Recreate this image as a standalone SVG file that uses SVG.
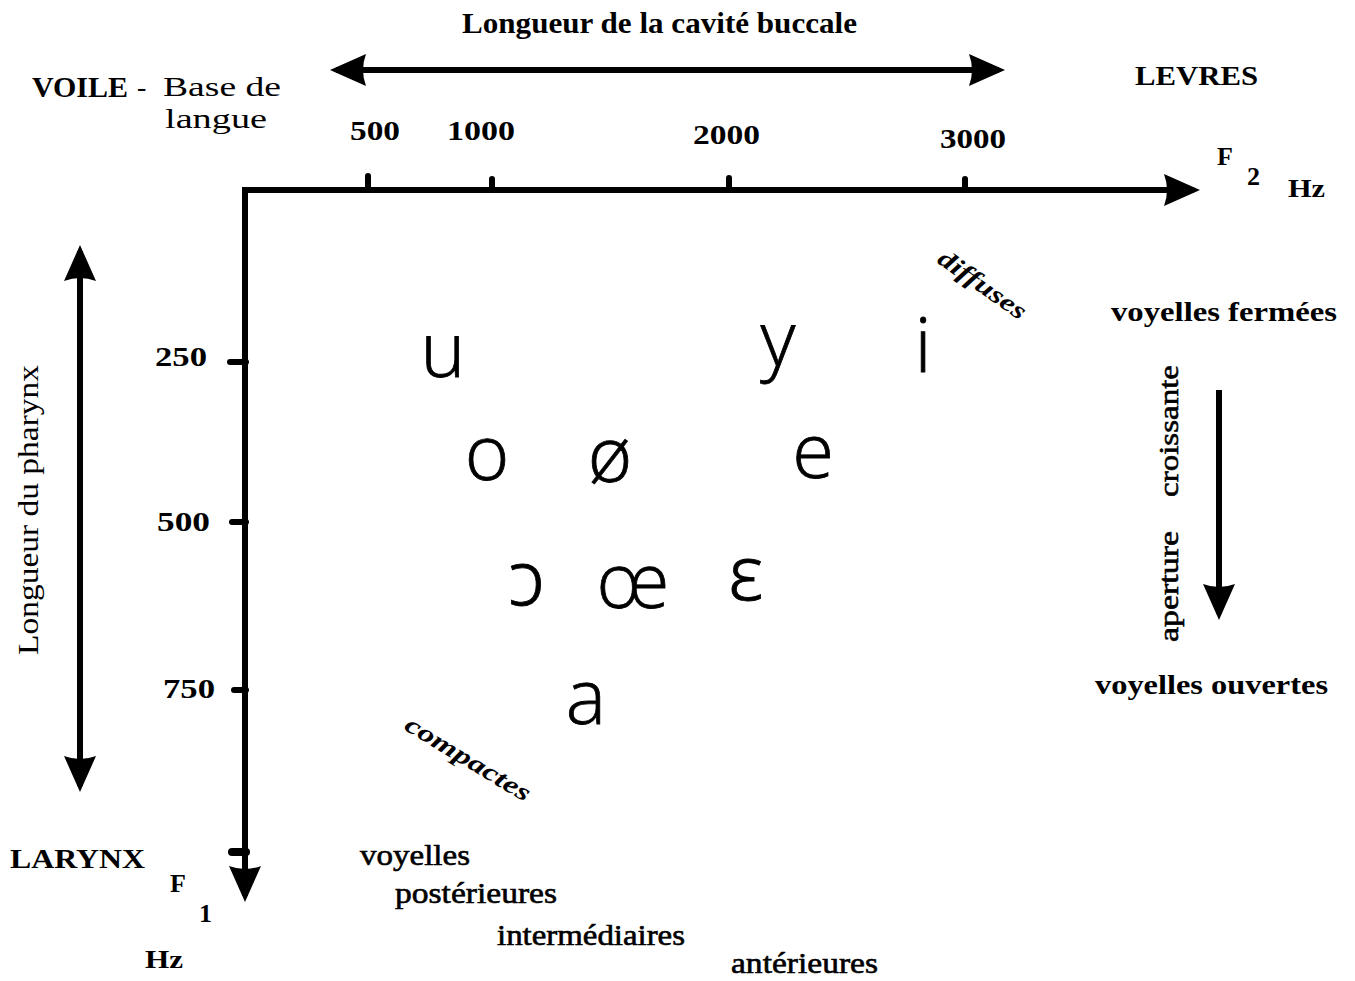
<svg xmlns="http://www.w3.org/2000/svg" width="1355" height="981" viewBox="0 0 1355 981">
<defs>
<marker id="ah" markerUnits="userSpaceOnUse" markerWidth="40" markerHeight="36" refX="30" refY="16" orient="auto-start-reverse">
<path d="M0,0 L36,16 L0,32 Q6,16 0,0 z" fill="#000"/>
</marker>
</defs>
<style>
text{fill:#000;font-family:"Liberation Serif","Times New Roman",serif}
.b{font-weight:bold}
.n{font-weight:normal}
.m{font-weight:normal;stroke:#000;stroke-width:0.6}
.bi{font-weight:bold;font-style:italic}
.v{font-family:"Open Sans","Noto Sans","DejaVu Sans",sans-serif;font-weight:300;font-size:76px;text-anchor:middle;stroke:#000;stroke-width:0.8}
.ax{stroke:#000;stroke-width:6;fill:none}
.tk{stroke:#000;stroke-width:6;fill:none;stroke-linecap:round}
</style>
<rect width="1355" height="981" fill="#fff"/>

<g id="connectors">
<line class="ax" x1="336" y1="70" x2="999" y2="70" marker-start="url(#ah)" marker-end="url(#ah)"/>
<path class="ax" d="M1194,190 H245 V896" marker-start="url(#ah)" marker-end="url(#ah)"/>
<line class="ax" x1="80" y1="251" x2="80" y2="786" marker-start="url(#ah)" marker-end="url(#ah)"/>
<line class="ax" x1="1219" y1="390" x2="1219" y2="614" marker-end="url(#ah)"/>
</g>

<g id="ticks">
<line class="tk" x1="368" y1="176" x2="368" y2="190"/>
<line class="tk" x1="492" y1="179" x2="492" y2="190"/>
<line class="tk" x1="729" y1="178" x2="729" y2="190"/>
<line class="tk" x1="965" y1="179" x2="965" y2="190"/>
<line class="tk" x1="230" y1="362" x2="246" y2="362"/>
<line class="tk" x1="232" y1="522" x2="246" y2="522"/>
<line class="tk" x1="234" y1="690" x2="246" y2="690"/>
<line class="tk" x1="232" y1="852" x2="246" y2="852" style="stroke-width:8"/>
</g>

<g id="title"><text class="b" x="462" y="33" font-size="30" textLength="395" lengthAdjust="spacingAndGlyphs">Longueur de la cavité buccale</text></g>
<g id="voile">
<text x="32" y="97" font-size="30" class="b" textLength="96" lengthAdjust="spacingAndGlyphs">VOILE</text>
<text x="137" y="96" font-size="28" class="n">-</text>
<text x="163" y="96" font-size="28" class="n" textLength="118" lengthAdjust="spacingAndGlyphs">Base de</text>
<text x="165" y="128" font-size="28" class="n" textLength="102" lengthAdjust="spacingAndGlyphs">langue</text>
</g>
<g id="levres"><text class="b" x="1135" y="85" font-size="28" textLength="123" lengthAdjust="spacingAndGlyphs">LEVRES</text></g>

<g id="f2labels" font-size="28">
<text class="b" x="350" y="140" textLength="50" lengthAdjust="spacingAndGlyphs">500</text>
<text class="b" x="447" y="140" textLength="68" lengthAdjust="spacingAndGlyphs">1000</text>
<text class="b" x="693" y="144" textLength="67" lengthAdjust="spacingAndGlyphs">2000</text>
<text class="b" x="940" y="148" textLength="66" lengthAdjust="spacingAndGlyphs">3000</text>
<text class="b" x="1217" y="165" font-size="26">F</text>
<text class="b" x="1247" y="185" font-size="26">2</text>
<text class="b" x="1288" y="197" font-size="26" textLength="37" lengthAdjust="spacingAndGlyphs">Hz</text>
</g>

<g id="f1labels" font-size="28">
<text class="b" x="155" y="366" textLength="52" lengthAdjust="spacingAndGlyphs">250</text>
<text class="b" x="157" y="531" textLength="53" lengthAdjust="spacingAndGlyphs">500</text>
<text class="b" x="163" y="698" textLength="52" lengthAdjust="spacingAndGlyphs">750</text>
<text class="b" x="170" y="892" font-size="26">F</text>
<text class="b" x="199" y="922" font-size="26">1</text>
<text class="b" x="145" y="968" font-size="26" textLength="38" lengthAdjust="spacingAndGlyphs">Hz</text>
</g>

<g id="pharynx"><text class="n" transform="translate(38,655) rotate(-90)" font-size="30" textLength="290" lengthAdjust="spacingAndGlyphs">Longueur du pharynx</text></g>
<g id="larynx"><text class="b" x="10" y="868" font-size="28" textLength="135" lengthAdjust="spacingAndGlyphs">LARYNX</text></g>

<g id="bottom" font-size="29">
<text class="m" x="360" y="865" textLength="110" lengthAdjust="spacingAndGlyphs">voyelles</text>
<text class="m" x="395" y="903" textLength="162" lengthAdjust="spacingAndGlyphs">postérieures</text>
<text class="m" x="497" y="945" textLength="188" lengthAdjust="spacingAndGlyphs">intermédiaires</text>
<text class="m" x="731" y="973" textLength="147" lengthAdjust="spacingAndGlyphs">antérieures</text>
</g>

<g id="aperture">
<text class="b" x="1111" y="321" font-size="28" textLength="226" lengthAdjust="spacingAndGlyphs">voyelles fermées</text>
<text class="b" x="1095" y="694" font-size="28" textLength="233" lengthAdjust="spacingAndGlyphs">voyelles ouvertes</text>
<g transform="translate(1178,642) rotate(-90)" font-size="28">
<text class="m" x="0" y="0" textLength="111" lengthAdjust="spacingAndGlyphs">aperture</text>
<text class="m" x="145" y="0" textLength="132" lengthAdjust="spacingAndGlyphs">croissante</text>
</g>
</g>

<g id="diffuses"><text class="bi" transform="translate(936,262) rotate(35)" font-size="25" textLength="102" lengthAdjust="spacingAndGlyphs">diffuses</text></g>
<g id="compactes"><text class="bi" transform="translate(403,729) rotate(31)" font-size="25" textLength="142" lengthAdjust="spacingAndGlyphs">compactes</text></g>

<g id="vowels">
<text class="v" x="443" y="377">u</text>
<text class="v" x="778" y="366">y</text>
<text class="v" x="923" y="372">i</text>
<text class="v" x="487" y="480">o</text>
<text class="v" x="610" y="482">ø</text>
<text class="v" x="813" y="478">e</text>
<text class="v" x="527" y="605">ɔ</text>
<text class="v" x="633" y="608">œ</text>
<text class="v" x="746" y="600">ɛ</text>
<text class="v" x="586" y="724" font-size="86">a</text>
</g>
</svg>
